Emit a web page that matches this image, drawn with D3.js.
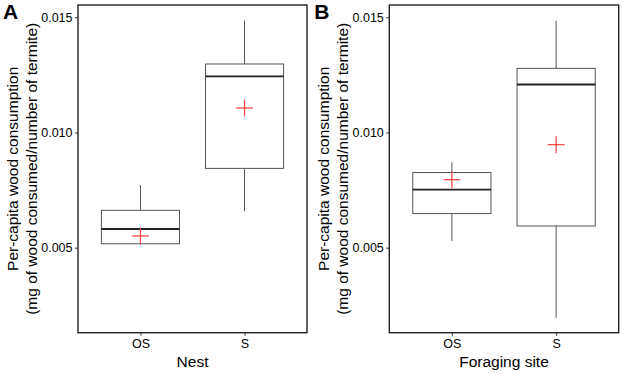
<!DOCTYPE html>
<html>
<head>
<meta charset="utf-8">
<script src="https://cdn.jsdelivr.net/npm/d3@7"></script>
<style>
  body { margin: 0; background: #fff; }
  svg { font-family: "Liberation Sans", Arial, sans-serif; }
</style>
</head>
<body>
<div id="chart"></div>
<script>
const categories = ['OS', 'S'];
const yTicks = [0.005, 0.010, 0.015];

// panel A - Nest
const nestLow  = [0.00517, 0.00658];
const nestQ1   = [0.00517, 0.00844];
const nestMed  = [0.00581, 0.01243];
const nestQ3   = [0.00662, 0.01297];
const nestHigh = [0.00772, 0.01485];
const nestMean = [0.00551, 0.01106];

// panel B - Foraging site
const siteLow  = [0.00529, 0.00196];
const siteQ1   = [0.00648, 0.00594];
const siteMed  = [0.00752, 0.01208];
const siteQ3   = [0.00826, 0.01278];
const siteHigh = [0.00870, 0.01485];
const siteMean = [0.00795, 0.00947];

const W = 624, H = 374;
const svg = d3.select('#chart').append('svg')
    .attr('width', W)
    .attr('height', H);

const yTop = 5, yBottom = 332.7;
const y = d3.scaleLinear()
    .domain([0.00131, 0.01553])
    .range([yBottom, yTop]);

function renderPanel(x0, x1, letter, xTitle, low, q1, med, q3, high, mean) {
    const g = svg.append('g');
    const x = d3.scalePoint()
        .domain(categories)
        .range([x0, x1])
        .padding(0.6);
    const boxW = x.step() * 0.75;

    // y axis
    const yAxis = d3.axisLeft(y)
        .tickValues(yTicks)
        .tickFormat(d3.format('.3f'))
        .tickSize(3)
        .tickPadding(2.5);
    const ya = g.append('g')
        .attr('transform', `translate(${x0},0)`)
        .call(yAxis);
    ya.select('.domain').remove();
    ya.selectAll('line').attr('stroke', '#333');
    ya.selectAll('text')
        .attr('font-size', 12.5)
        .attr('fill', '#000')
        .attr('font-family', '"Liberation Sans", Arial, sans-serif');

    // x axis
    const xAxis = d3.axisBottom(x).tickSize(3).tickPadding(3.5);
    const xa = g.append('g')
        .attr('transform', `translate(0,${yBottom})`)
        .call(xAxis);
    xa.select('.domain').remove();
    xa.selectAll('line').attr('stroke', '#333');
    xa.selectAll('text')
        .attr('font-size', 12.5)
        .attr('fill', '#000')
        .attr('font-family', '"Liberation Sans", Arial, sans-serif');

    const boxes = g.append('g')
        .selectAll('g')
        .data(categories)
        .enter()
        .append('g');

    // whiskers
    boxes.append('line')
        .attr('x1', d => x(d)).attr('x2', d => x(d))
        .attr('y1', (d, i) => y(q3[i])).attr('y2', (d, i) => y(high[i]))
        .attr('stroke', '#555').attr('stroke-width', 1);
    boxes.append('line')
        .attr('x1', d => x(d)).attr('x2', d => x(d))
        .attr('y1', (d, i) => y(q1[i])).attr('y2', (d, i) => y(low[i]))
        .attr('stroke', '#555').attr('stroke-width', 1);

    boxes.append('rect')
        .attr('x', d => x(d) - boxW / 2)
        .attr('width', boxW)
        .attr('y', (d, i) => y(q3[i]))
        .attr('height', (d, i) => y(q1[i]) - y(q3[i]))
        .attr('fill', '#fff')
        .attr('stroke', '#555')
        .attr('stroke-width', 1);

    boxes.append('line')
        .attr('x1', d => x(d) - boxW / 2).attr('x2', d => x(d) + boxW / 2)
        .attr('y1', (d, i) => y(med[i])).attr('y2', (d, i) => y(med[i]))
        .attr('stroke', '#222').attr('stroke-width', 1.8);

    // mean crosses
    const cs = 8.5;
    boxes.append('line')
        .attr('x1', d => x(d) - cs).attr('x2', d => x(d) + cs)
        .attr('y1', (d, i) => y(mean[i])).attr('y2', (d, i) => y(mean[i]))
        .attr('stroke', '#ff4040').attr('stroke-width', 1.2);
    boxes.append('line')
        .attr('x1', d => x(d)).attr('x2', d => x(d))
        .attr('y1', (d, i) => y(mean[i]) - cs).attr('y2', (d, i) => y(mean[i]) + cs)
        .attr('stroke', '#ff4040').attr('stroke-width', 1.2);

    // panel border
    g.append('rect')
        .attr('x', x0).attr('y', yTop)
        .attr('width', x1 - x0).attr('height', yBottom - yTop)
        .attr('fill', 'none')
        .attr('stroke', '#222')
        .attr('stroke-width', 1.4);

    // axis titles
    g.append('text')
        .attr('x', (x0 + x1) / 2)
        .attr('y', 366.5)
        .attr('text-anchor', 'middle')
        .attr('font-size', 15.5)
        .text(xTitle);

    const yc = (yTop + yBottom) / 2;
    const yl = g.append('text')
        .attr('transform', `translate(${x0 - 60},${yc}) rotate(-90)`)
        .attr('text-anchor', 'middle')
        .attr('font-size', 15.5);
    yl.append('tspan').attr('x', 0).attr('y', 0).text('Per-capita wood consumption');
    yl.append('tspan').attr('x', 0).attr('y', 18.5).text('(mg of wood consumed/number of termite)');

    g.append('text')
        .attr('x', x0 - 75)
        .attr('y', 19.3)
        .attr('font-size', 21)
        .attr('font-weight', 'bold')
        .text(letter);
}

renderPanel(78, 307, 'A', 'Nest', nestLow, nestQ1, nestMed, nestQ3, nestHigh, nestMean);
renderPanel(389.3, 618.7, 'B', 'Foraging site', siteLow, siteQ1, siteMed, siteQ3, siteHigh, siteMean);
</script>
</body>
</html>
